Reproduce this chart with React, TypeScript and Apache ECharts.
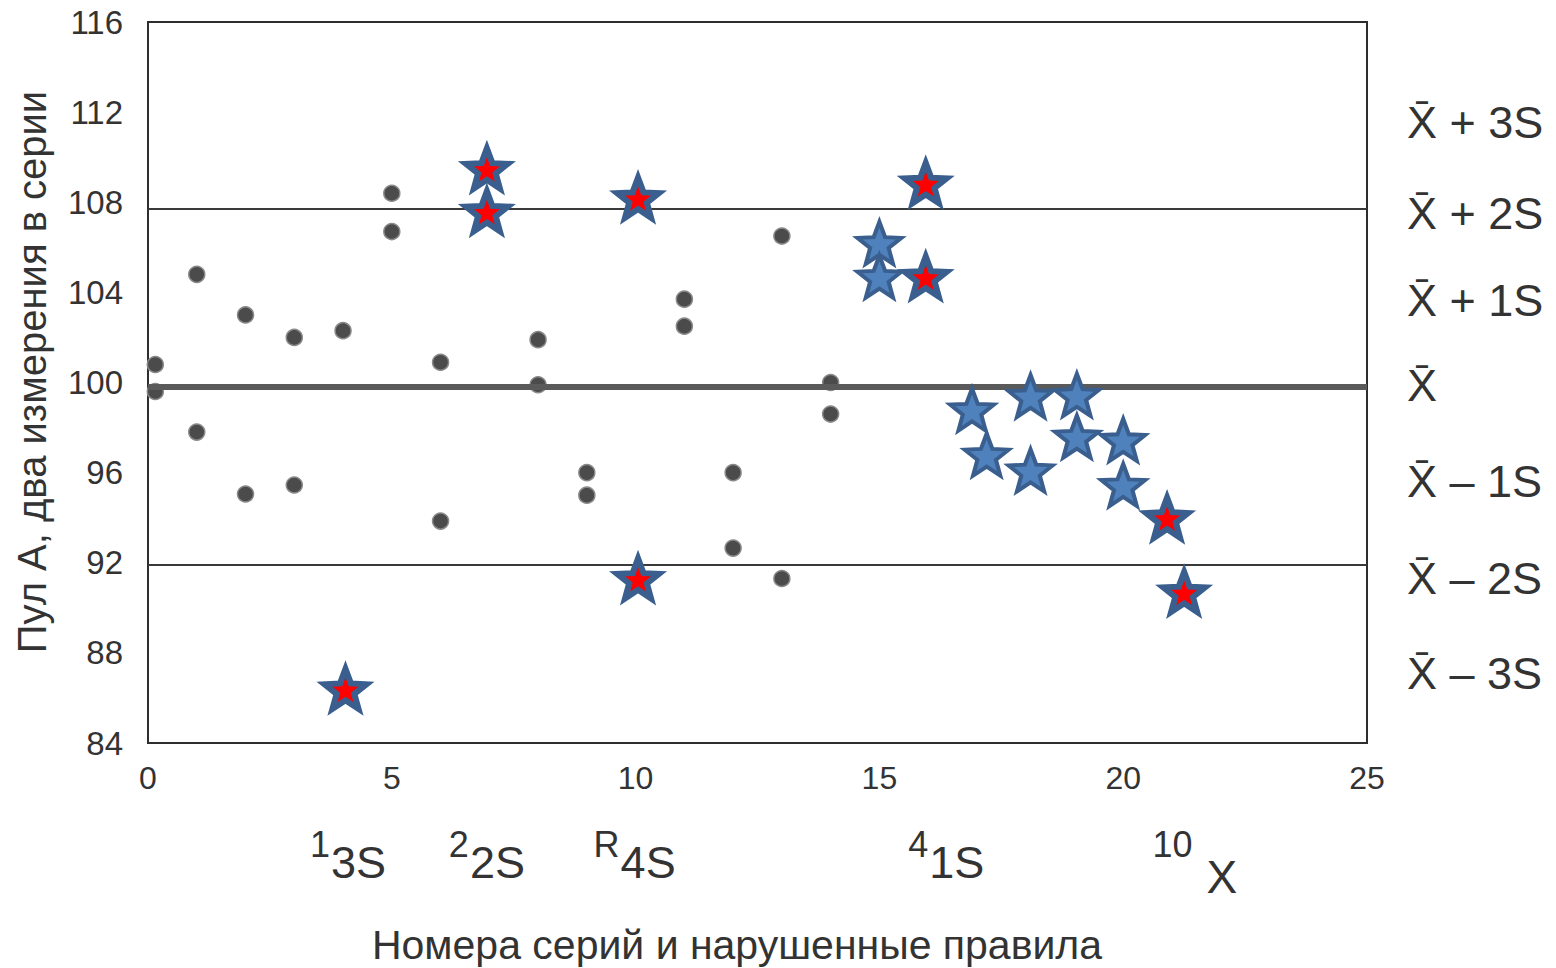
import React, { useEffect, useRef } from "react";
import * as echarts from "echarts";

// ---- data ----
const xMin = 0;
const xMax = 25;
const xInterval = 5;
const yMin = 84;
const yMax = 116;
const yInterval = 4;

// plain measurements (grey dots): run number and value
const dotRuns = [0.15, 0.15, 1, 1, 2, 2, 3, 3, 4, 5, 5, 6, 6, 8, 8, 9, 9, 11, 11, 12, 12, 13, 13, 14, 14];
const dotValues = [100.8, 99.6, 104.8, 97.8, 103.0, 95.05, 102.0, 95.45, 102.3, 108.4, 106.7, 100.9, 93.85, 101.9, 99.9, 96.0, 95.0, 103.7, 102.5, 96.0, 92.65, 106.5, 91.3, 100.0, 98.6];

// measurements flagged within a 4_1S / 10_X run (blue stars)
const blueStarRuns = [15, 15, 16.9, 17.2, 18.1, 18.1, 19.05, 19.05, 20, 20];
const blueStarValues = [106.2, 104.7, 98.8, 96.8, 99.4, 96.1, 99.45, 97.6, 97.45, 95.45];

// measurements that trigger a rule (red stars)
const redStarRuns = [4.05, 6.95, 6.95, 10.05, 10.05, 15.95, 15.95, 20.9, 21.25];
const redStarValues = [86.4, 109.5, 107.6, 108.2, 91.3, 108.85, 104.7, 94.0, 90.7];

// control lines
const meanValue = 99.8;
const upperLimit = 107.7;
const lowerLimit = 91.9;

// right-hand limit labels
const limitLabels = ["X\u0304 + 3S", "X\u0304 + 2S", "X\u0304 + 1S", "X\u0304", "X\u0304 \u2013 1S", "X\u0304 \u2013 2S", "X\u0304 \u2013 3S"];
const limitLabelValues = [111.55, 107.5, 103.65, 99.85, 95.6, 91.3, 87.1];

// violated rules under the x axis
const ruleSup = ["1", "2", "R", "4", "10"];
const ruleSub = ["3S", "2S", "4S", "1S", "X"];
const ruleLabelRuns = [4.1, 6.95, 9.98, 16.37, 21.47];

const xTitle = "Номера серий и нарушенные правила";
const yTitle = "Пул А, два измерения в серии";

const STAR =
  "path://M50 0 L62.34 33.01 L97.55 34.55 L69.97 56.49 L79.39 90.45 L50 71 L20.61 90.45 L30.03 56.49 L2.45 34.55 L37.66 33.01 Z";

const FONT = "'Liberation Sans', Arial, Helvetica, sans-serif";

export default function App() {
  const ref = useRef<HTMLDivElement>(null);

  useEffect(() => {
    if (!ref.current) return;
    const chart = echarts.init(ref.current, undefined, { renderer: "svg" });

    const dots = dotRuns.map((x, i) => [x, dotValues[i]]);
    const blue = blueStarRuns.map((x, i) => [x, blueStarValues[i]]);
    const red = redStarRuns.map((x, i) => [x, redStarValues[i]]);

    const nearest = (arr: number[], v: number) => {
      let k = 0;
      let best = Infinity;
      arr.forEach((r, i) => {
        const d = Math.abs(r - v);
        if (d < best) {
          best = d;
          k = i;
        }
      });
      return k;
    };

    const option: any = {
      animation: false,
      backgroundColor: "#ffffff",
      textStyle: { fontFamily: FONT },
      grid: {
        left: 148,
        right: 189,
        top: 22,
        bottom: 225,
        show: true,
        borderColor: "#2e2e2e",
        borderWidth: 2,
        backgroundColor: "transparent",
      },
      xAxis: [
        {
          type: "value",
          min: xMin,
          max: xMax,
          interval: xInterval,
          axisLine: { show: false },
          axisTick: { show: false },
          splitLine: { show: false },
          axisLabel: { fontSize: 32, color: "#333", margin: 19, fontFamily: FONT },
        },
        {
          type: "value",
          min: xMin,
          max: xMax,
          position: "bottom",
          offset: 75,
          axisLine: { show: false },
          axisTick: { show: false },
          splitLine: { show: false },
          axisLabel: {
            customValues: ruleLabelRuns,
            margin: 8,
            color: "#333",
            fontFamily: FONT,
            formatter: (v: number) => {
              const k = nearest(ruleLabelRuns, v);
              const subStyle = ruleSub[k] === "X" ? "subx" : "sub";
              return `{sup|${ruleSup[k]}}{${subStyle}|${ruleSub[k]}}`;
            },
            rich: {
              sup: { fontSize: 36, lineHeight: 36, verticalAlign: "top", color: "#333", fontFamily: FONT },
              sub: { fontSize: 45, lineHeight: 45, verticalAlign: "top", padding: [14, 0, 0, 1], color: "#333", fontFamily: FONT },
              subx: { fontSize: 46, lineHeight: 46, verticalAlign: "top", padding: [28, 0, 0, 14], color: "#333", fontFamily: FONT },
            },
          },
        },
      ],
      yAxis: [
        {
          type: "value",
          min: yMin,
          max: yMax,
          interval: yInterval,
          axisLine: { show: false },
          axisTick: { show: false },
          splitLine: { show: false },
          axisLabel: { fontSize: 33, color: "#333", margin: 25, fontFamily: FONT },
        },
        {
          type: "value",
          min: yMin,
          max: yMax,
          position: "right",
          axisLine: { show: false },
          axisTick: { show: false },
          splitLine: { show: false },
          axisLabel: {
            customValues: limitLabelValues,
            fontSize: 45,
            color: "#333",
            margin: 40,
            align: "left",
            fontFamily: FONT,
            formatter: (v: number) => limitLabels[nearest(limitLabelValues, v)],
          },
        },
      ],
      graphic: [
        {
          type: "text",
          x: 737,
          y: 945,
          style: {
            text: xTitle,
            fontSize: 41,
            fontFamily: FONT,
            fill: "#333",
            textAlign: "center",
            textVerticalAlign: "middle",
          },
        },
        {
          type: "text",
          x: 32,
          y: 372,
          rotation: Math.PI / 2,
          style: {
            text: yTitle,
            fontSize: 40,
            fontFamily: FONT,
            fill: "#333",
            textAlign: "center",
            textVerticalAlign: "middle",
          },
        },
      ],
      series: [
        {
          type: "scatter",
          name: "lines",
          data: [],
          z: 1,
          silent: true,
          markLine: {
            silent: true,
            symbol: "none",
            label: { show: false },
            data: [
              { yAxis: meanValue, lineStyle: { color: "#5a5a5a", width: 6, type: "solid" } },
              { yAxis: upperLimit, lineStyle: { color: "#3a3a3a", width: 2, type: "solid" } },
              { yAxis: lowerLimit, lineStyle: { color: "#3a3a3a", width: 2, type: "solid" } },
            ],
          },
        },
        {
          type: "scatter",
          name: "dots",
          data: dots,
          z: 3,
          symbol: "circle",
          symbolSize: 16,
          itemStyle: { color: "#4b4b4b", borderColor: "#8a8a8a", borderWidth: 1.5, opacity: 1 },
        },
        {
          type: "scatter",
          name: "blue",
          data: blue,
          z: 5,
          symbol: STAR,
          symbolSize: [44, 42],
          itemStyle: { color: "#4F81BD", borderColor: "#3A5F8E", borderWidth: 4, opacity: 1 },
        },
        {
          type: "scatter",
          name: "red",
          data: red,
          z: 6,
          symbol: STAR,
          symbolSize: [42, 40],
          itemStyle: { color: "#FF0000", borderColor: "#3A5F8E", borderWidth: 6, opacity: 1 },
        },
      ],
    };

    chart.setOption(option);
    return () => chart.dispose();
  }, []);

  return (
    <div
      ref={ref}
      style={{ position: "fixed", left: 0, top: 0, width: 1556, height: 968, background: "#fff" }}
    />
  );
}
